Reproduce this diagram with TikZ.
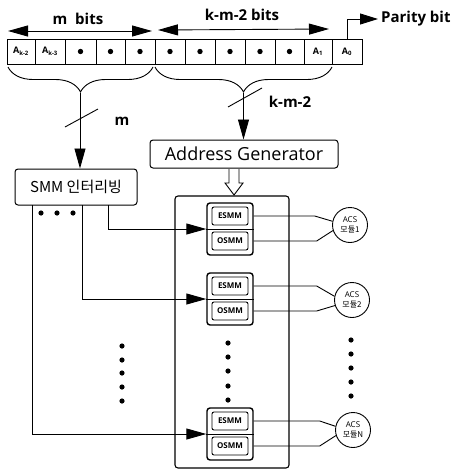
\documentclass[tikz,border=0pt]{standalone}
\usepackage{fontspec}
\setmainfont{Open Sans}
\newfontfamily\kr{Noto Sans CJK KR}
\usetikzlibrary{arrows.meta,decorations.pathreplacing}
\newcommand\bitA[1]{A\textsubscript{#1}}
\tikzset{
  cell/.style={draw, line width=0.8pt, minimum height=25pt, inner sep=0pt, font=\bfseries\fontsize{9}{10}\selectfont},
  lbl/.style={font=\bfseries\fontsize{15}{17}\selectfont, inner sep=0pt},
  tri/.style={-{Triangle[length=20pt,width=11pt]}},
  dtri/.style={{Triangle[length=20pt,width=11pt]}-{Triangle[length=20pt,width=11pt]}},
  bigbox/.style={draw, line width=1.1pt, rounded corners=3pt, inner sep=0pt, minimum width=114pt, minimum height=272pt},
  txtbox/.style={draw, line width=1pt, rounded corners=3pt, inner sep=0pt},
  modbox/.style={draw, line width=1.4pt, rounded corners=3pt, minimum width=46pt, minimum height=52pt, inner sep=0pt},
  inbox/.style={draw, line width=0.9pt, rounded corners=2pt, minimum width=36pt, minimum height=18pt, inner sep=0pt, font=\bfseries\fontsize{8}{9}\selectfont},
  acs/.style={draw, circle, line width=0.9pt, minimum size=35pt, inner sep=0pt, align=center, font=\fontsize{8}{10.5}\selectfont},
  brc/.style={decorate, decoration={brace, mirror, amplitude=25pt}, line width=0.9pt},
  conn/.style={line width=0.9pt},
}
\begin{document}
\begin{tikzpicture}[x=1pt,y=-1pt]
\useasboundingbox (0,0) rectangle (455,474);

% bit cells
\node[cell, minimum width=28pt] (c1) at (21,51.5) {\bitA{k-2}};
\node[cell, minimum width=30pt] (c2) at (50,51.5) {\bitA{k-3}};
\foreach \i/\l/\r in {3/65/96,4/96/125,5/125/155,6/155/185,7/185/215,8/215/245,9/245/275,10/275/304}
  \node[cell, minimum width={\r-\l}] (c\i) at ({(\l+\r)/2},51.5) {};
\node[cell, minimum width=28pt] (c11) at (318,51.5) {A\textsubscript{1}};
\node[cell, minimum width=30pt] (c12) at (347,51.5) {A\textsubscript{0}};
\foreach \i in {3,...,10} \fill (c\i) circle (2.7pt);

% top arrows and labels
\coordinate (mL) at (8,31);
\coordinate (mR) at (152,31);
\coordinate (kL) at (158,30);
\coordinate (kR) at (329,29);
\draw[conn,dtri] (mL) -- (mR);
\draw[conn,dtri] (kL) -- (kR);
\node[lbl] (mbits) at (78,19) {m~~bits};
\node[lbl] (kbits) at (242,15) {k-m-2 bits};
\node[lbl, anchor=west] (par) at (381,19) {Parity bit};
\draw[conn,-{Triangle[length=18pt,width=11pt]}, shorten >=3pt] (c12.north) |- (par.west);

% braces
\draw[brc] (8,67) -- (153,67);
\draw[brc] (155,67) -- (332,67);
\coordinate (bm) at (80,93);
\coordinate (bk) at (243.5,93);

% boxes
\node[txtbox, minimum width=122pt, minimum height=36pt, font=\kr\fontsize{15}{17}\selectfont] (smm) at (76,187) {SMM 인터리빙};
\node[txtbox, minimum width=188pt, minimum height=28pt, font=\fontsize{18}{20}\selectfont] (ag) at (244,154) {Address Generator};
\node[bigbox] (big) at (232,332) {};

\draw[conn,tri] (bm) -- (bm |- smm.north);
\draw[conn,tri] (bk) -- (bk |- ag.north);

% bus slashes and widths
\draw[conn] (65,127) -- (98,109);
\draw[conn] (228,107) -- (262,88);
\node[lbl] (mlab) at (122,121) {m};
\node[lbl] (klab) at (290,102) {k-m-2};

% hollow arrow
\draw[line width=0.9pt, fill=white] (229,169) -- (229,183) -- (225,183) -- (234,195) -- (243,183) -- (239,183) -- (239,169);

% modules
\foreach \k/\y in {1/229, 2/299, 3/434} {
  \node[modbox] (m\k) at (230,\y) {};
  \node[inbox] (e\k) at (230,{\y-13}) {ESMM};
  \node[inbox] (o\k) at (230,{\y+12}) {OSMM};
  \draw[line width=0.9pt] (m\k.west) -- (m\k.east);
}

% ACS modules
\node[acs] (a1) at (350,225) {ACS\\{\kr 모듈1}};
\node[acs] (a2) at (352,300) {ACS\\{\kr 모듈2}};
\node[acs] (a3) at (353,430) {ACS\\{\kr 모듈N}};

\draw[conn] (e1.east -| m1.east) -- ++(61,0) -- (a1.168);
\draw[conn] (o1.east -| m1.east) -- ++(63,0) -- (a1.198);
\draw[conn] (e2.east -| m2.east) -- ++(63,0) -- (a2.168);
\draw[conn] (o2.east -| m2.east) -- ++(63,0) -- (a2.198);
\draw[conn] (e3.east -| m3.east) -- ++(66,0) -- (a3.168);
\draw[conn] (o3.east -| m3.east) -- ++(66,0) -- (a3.198);

% SMM outputs
\coordinate (s1) at (108,205);
\coordinate (s2) at (82,205);
\coordinate (s3) at (32,205);
\draw[conn,tri] (s1) |- (m1.west);
\draw[conn,tri] (s2) |- (m2.west);
\draw[conn,tri] (s3) |- (m3.west);

% dots
\foreach \x in {41,57,73} \fill (\x,213) circle (2.6pt);
\foreach \y in {346,360,373,387,401} \fill (122,\y) circle (2.6pt);
\foreach \y in {343,357,371,386,400} \fill (228,\y) circle (2.6pt);
\foreach \y in {340,354,368,382,396} \fill (351,\y) circle (2.6pt);
\end{tikzpicture}
\end{document}
